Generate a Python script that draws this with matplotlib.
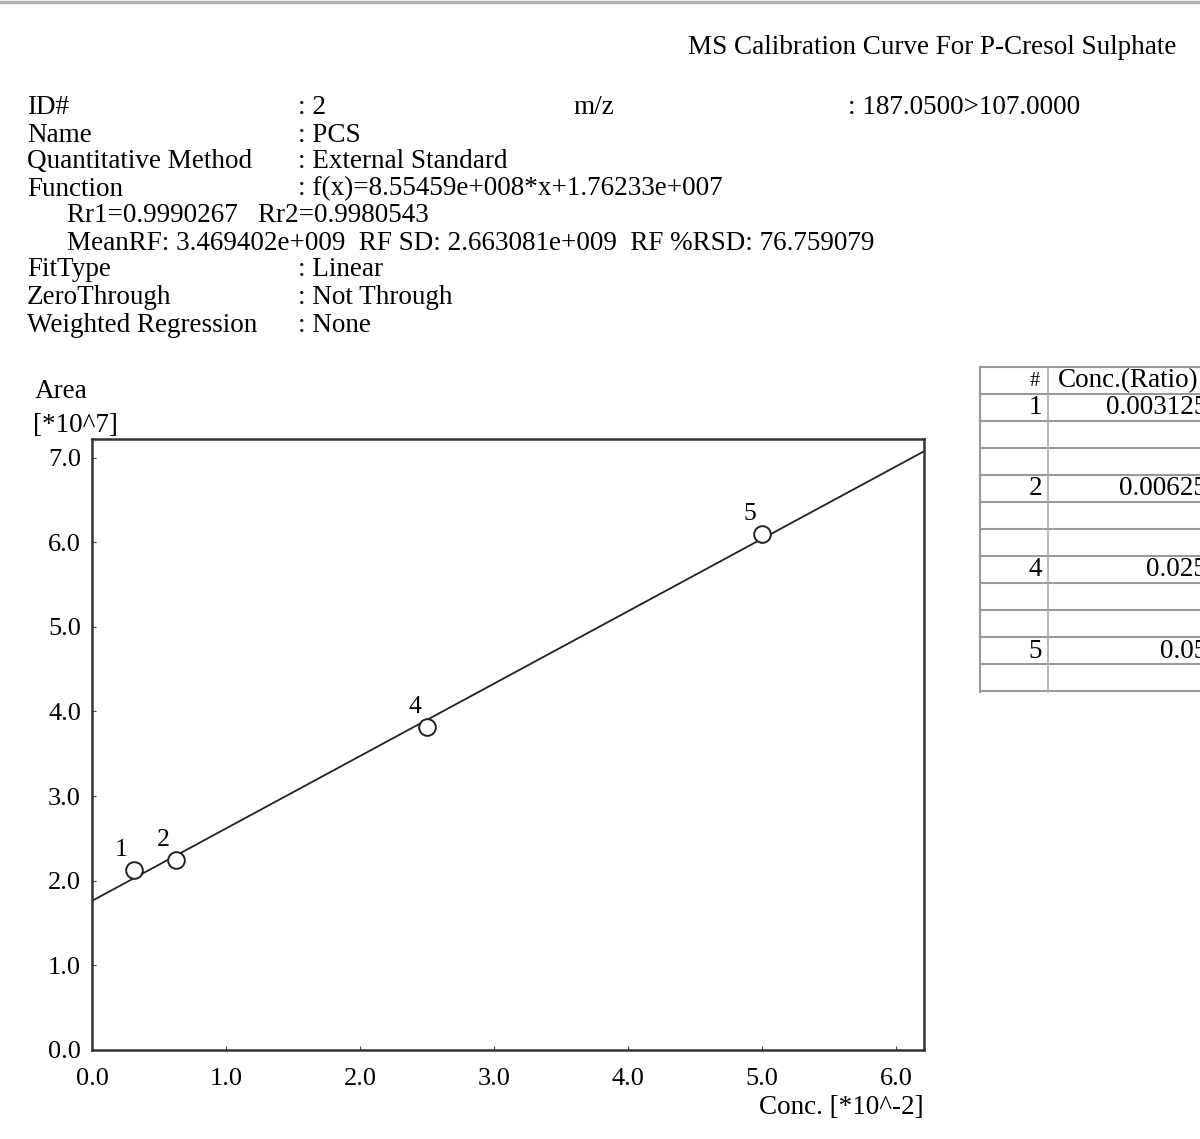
import matplotlib
matplotlib.use("Agg")
import matplotlib.pyplot as plt
import numpy as np
from matplotlib.lines import Line2D

plt.rcParams['font.family'] = ['Liberation Serif', 'DejaVu Serif']

# calibration points (conc in *10^-2, area in *10^7)
point_ids = ['1', '2', '4', '5']
conc = [0.3125, 0.625, 2.5, 5.0]
area = [2.13, 2.25, 3.82, 6.10]

# fitted line f(x)=8.55459e+008*x+1.76233e+007, rescaled to plot units
slope = 8.55459e8 * 1e-2 / 1e7
intercept = 1.76233e7 / 1e7

xticks = [0, 1, 2, 3, 4, 5, 6]
yticks = [0, 1, 2, 3, 4, 5, 6, 7]

table_ids = ['1', '2', '4', '5']
table_conc = ['0.003125', '0.00625', '0.025', '0.05']

W, H = 1200, 1139
fig = plt.figure(figsize=(12, 11.39), dpi=100)


def fx(px):
    return px / W


def fy(py):
    return 1 - py / H


fs = 19.5

# top border line
fig.add_artist(Line2D([0, 1], [fy(1.5), fy(1.5)], color='#b0b0b0', lw=2.5))

fig.text(fx(688), fy(48), 'MS Calibration Curve For P-Cresol Sulphate',
         fontsize=fs, va='center', ha='left')

header = [
    ('ID#', ': 2'),
    ('Name', ': PCS'),
    ('Quantitative Method', ': External Standard'),
    ('Function', ': f(x)=8.55459e+008*x+1.76233e+007'),
    None,
    None,
    ('FitType', ': Linear'),
    ('ZeroThrough', ': Not Through'),
    ('Weighted Regression', ': None'),
]
row_y = [108, 135, 162, 189, 216, 243, 270, 297, 325]
for item, y in zip(header, row_y):
    if item is None:
        continue
    fig.text(fx(27), fy(y), item[0], fontsize=fs, va='center', ha='left')
    fig.text(fx(298), fy(y), item[1], fontsize=fs, va='center', ha='left')
fig.text(fx(67), fy(216), 'Rr1=0.9990267   Rr2=0.9980543', fontsize=fs, va='center')
fig.text(fx(67), fy(243), 'MeanRF: 3.469402e+009  RF SD: 2.663081e+009  RF %RSD: 76.759079',
         fontsize=fs, va='center')
fig.text(fx(573), fy(108), 'm/z', fontsize=fs, va='center')
fig.text(fx(848), fy(108), ': 187.0500>107.0000', fontsize=fs, va='center')

# plot
ax = fig.add_axes([fx(92), fy(1050), fx(924 - 92), (1050 - 439) / H])
x = np.array([0, 6.21])
ax.plot(x, slope * x + intercept, color='#222222', lw=1.3)
ax.plot(conc, area, 'o', mfc='white', mec='#222222', ms=12, mew=1.4)
for pid, cx, cy in zip(point_ids, conc, area):
    ax.annotate(pid, (cx, cy), xytext=(-9, 6), textcoords='offset points',
                fontsize=fs - 1, ha='center', va='bottom')
ax.set_xlim(0, 6.21)
ax.set_ylim(0, 7.22)
ax.set_xticks(xticks)
ax.set_xticklabels([f'{v:.1f}' for v in xticks])
ax.set_yticks(yticks)
ax.set_yticklabels([f'{v:.1f}' for v in yticks])
ax.tick_params(direction='in', length=3, labelsize=fs - 0.5, color='#444444')
ax.tick_params(axis='x', pad=13)
ax.tick_params(axis='y', pad=8)
for s in ax.spines.values():
    s.set_linewidth(1.8)
    s.set_color('#333333')

fig.text(fx(35), fy(392), 'Area', fontsize=fs, va='center')
fig.text(fx(33), fy(425), '[*10^7]', fontsize=fs, va='center')
fig.text(fx(924), fy(1107), 'Conc. [*10^-2]', fontsize=fs, va='center', ha='right')

# table on the right (cut off by the figure edge, as in the original)
tl, tdiv = 980, 1048
lines_y = [367 + 27 * i for i in range(13)]
for y in lines_y:
    fig.add_artist(Line2D([fx(tl), 1.0], [fy(y), fy(y)], color='#999999', lw=1.5))
fig.add_artist(Line2D([fx(tl), fx(tl)], [fy(367), fy(692)], color='#999999', lw=1.5))
fig.add_artist(Line2D([fx(tdiv), fx(tdiv)], [fy(367), fy(692)], color='#aaaaaa', lw=1.2))
fig.text(fx(1040), fy(381), '#', fontsize=fs - 5, va='center', ha='right')
fig.text(fx(1058), fy(381), 'Conc.(Ratio)', fontsize=fs, va='center', ha='left')
for i, (tid, tc) in enumerate(zip(table_ids, table_conc)):
    yc = 408 + 81 * i
    fig.text(fx(1042), fy(yc), tid, fontsize=fs, va='center', ha='right')
    fig.text(fx(1207), fy(yc), tc, fontsize=fs, va='center', ha='right')

fig.savefig('out.png', dpi=100)
